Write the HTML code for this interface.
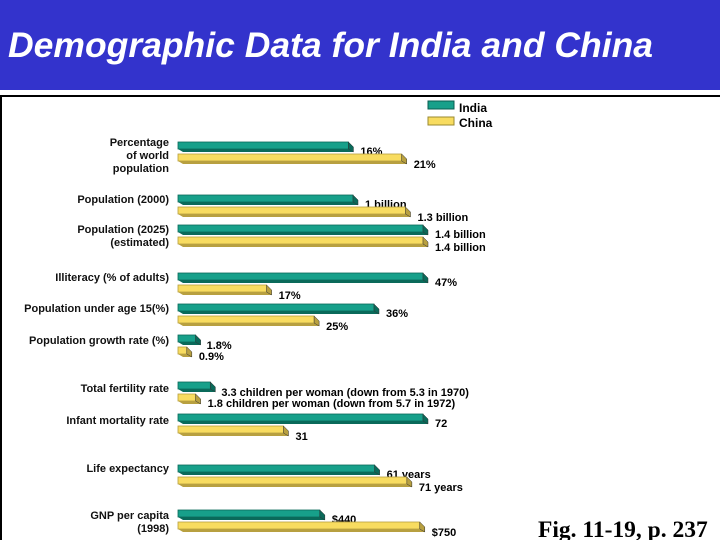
<!DOCTYPE html>
<html><head><meta charset="utf-8"><style>
body{margin:0;width:720px;height:540px;overflow:hidden;background:#fff;font-family:"Liberation Sans",sans-serif}
</style></head><body>
<svg width="720" height="540" xmlns="http://www.w3.org/2000/svg">
<rect x="0" y="0" width="720" height="90" fill="#3333cc"/>
<text x="8" y="57" font-family="Liberation Sans" font-style="italic" font-weight="bold" font-size="35.5" fill="#fff">Demographic Data for India and China</text>
<line x1="0" y1="92" x2="160" y2="92" stroke="#fff" stroke-width="2"/>
<path d="M1,540 L1,96 L720,96" fill="none" stroke="#000" stroke-width="2"/>
<g>
<rect x="428" y="101" width="26" height="8" fill="#17a08a" stroke="#0a5c50"/>
<text x="459" y="112" font-size="12" font-weight="bold">India</text>
<rect x="428" y="117" width="26" height="8" fill="#f8dc60" stroke="#9a8a30"/>
<text x="459" y="127" font-size="12" font-weight="bold">China</text>
</g>
<g id="bars"></g>
<text x="538" y="537" font-family="Liberation Serif" font-weight="bold" font-size="23.5">Fig. 11-19, p. 237</text>
</svg>
<script>
const categories=["Percentage|of world|population","Population (2000)","Population (2025)|(estimated)","Illiteracy (% of adults)","Population under age 15(%)","Population growth rate (%)","Total fertility rate","Infant mortality rate","Life expectancy","GNP per capita|(1998)"];
const indiaValues=[16,1.0,1.4,47,36,1.8,3.3,72,61,440];
const chinaValues=[21,1.3,1.4,17,25,0.9,1.8,31,71,750];
const indiaLabels=["16%","1 billion","1.4 billion","47%","36%","1.8%","3.3 children per woman (down from 5.3 in 1970)","72","61 years","$440"];
const chinaLabels=["21%","1.3 billion","1.4 billion","17%","25%","0.9%","1.8 children per woman (down from 5.7 in 1972)","31","71 years","$750"];
const rowMax=[23,1.4,1.4,47,45,25,25,72,76,760];
const rowTops=[142,195,225,273,304,335,382,414,465,510];
const labelY=[[146,159,172],[203],[233,246],[281],[312],[344],[392],[424],[472],[519,532]];
const x0=178, span=245;
function xs(i,v){return x0+Math.max(4,v/rowMax[i]*span);}
const g=document.getElementById('bars');
const NS="http://www.w3.org/2000/svg";
function el(t,a){const e=document.createElementNS(NS,t);for(const k in a)e.setAttribute(k,a[k]);return e;}
function bar(i,v,y,fill,dark,name,lab,lx,ly){
 const x1=xs(i,v);
 const grp=el('g',{});
 
 
 grp.appendChild(el('polygon',{points:`${x0},${y} ${x1},${y} ${x1+5},${y+5} ${x1+5},${y+10} ${x0+5},${y+10} ${x0},${y+7}`,fill:dark}));
 grp.appendChild(el('rect',{x:x0,y:y,width:x1-x0,height:7,fill:fill,stroke:dark,'stroke-width':0.8}));
 grp.appendChild(el('polygon',{points:`${x1},${y} ${x1+5},${y+5} ${x1+5},${y+10} ${x1},${y+7}`,fill:dark,stroke:'#333','stroke-width':0.5}));
 const t=el('text',{x:lx,y:ly,'font-size':11,'font-weight':'bold'});
 t.textContent=lab;
 
 
 grp.appendChild(t);
 g.appendChild(grp);
}
categories.forEach((c,i)=>{
 const y=rowTops[i];
 const lines=c.split('|');
 lines.forEach((ln,j)=>{
  const t=el('text',{x:169,y:labelY[i][j],'font-size':11,'font-weight':'bold','text-anchor':'end',fill:'#111'});
  t.textContent=ln;
  
  
  g.appendChild(t);
 });
 const xi=xs(i,indiaValues[i]), xc=xs(i,chinaValues[i]);
 const small=i===5||i===6;
 bar(i,indiaValues[i],y,'#17a08a','#0a6a5a','india-bar',indiaLabels[i],xi+(small?11:12),y+(small?14:13));
 bar(i,chinaValues[i],y+12,'#f8dc60','#b8a040','china-bar',chinaLabels[i],xc+(small?12:12),y+(small?25:26));
});
</script>
</body></html>
